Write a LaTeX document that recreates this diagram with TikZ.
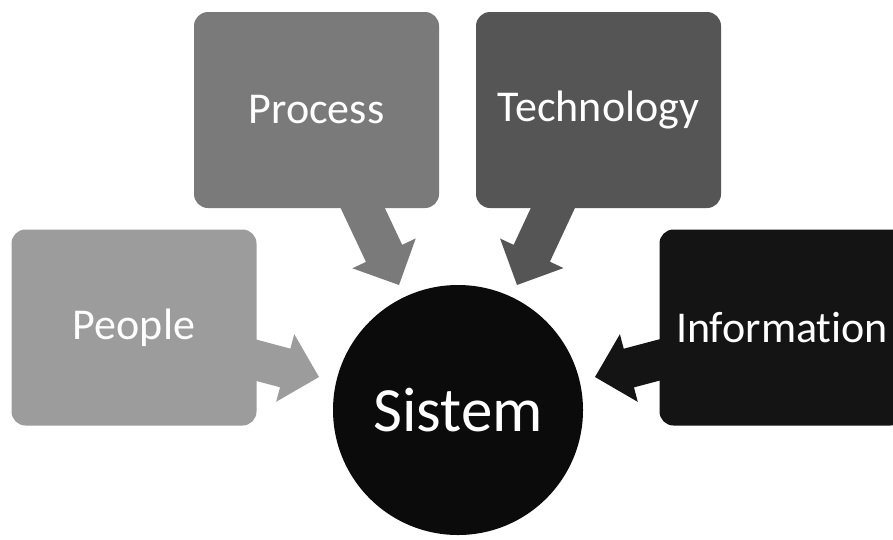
\documentclass[tikz,border=0pt]{standalone}
\usepackage{fontspec}
\setmainfont{Carlito}[Ligatures={NoCommon}]
\usetikzlibrary{calc}
\pgfdeclarelayer{paper}
\pgfdeclarelayer{back}
\pgfsetlayers{paper,back,main}
\definecolor{procgray}{HTML}{7A7A7A}
\definecolor{techgray}{HTML}{555555}
\definecolor{peoplegray}{HTML}{9C9C9C}
\definecolor{infoblack}{HTML}{141414}
\definecolor{sysblack}{HTML}{0B0B0B}
\tikzset{
  box/.style={rounded corners=14pt, minimum width=245pt, minimum height=196pt,
    inner sep=0pt, text=white, font=\fontsize{44}{50}\selectfont},
  sysnode/.style={circle, minimum size=250pt, inner sep=0pt, text=white,
    font=\fontsize{63}{70}\selectfont},
}
\newcommand{\blockarr}[3]{%
  \coordinate (hb) at ($(#2)!35pt!(#1)$);
  \fill[#3] ($(#1)!20pt!90:(#2)$) -- ($(hb)!20pt!90:(#2)$) -- ($(hb)!35pt!90:(#2)$)
    -- (#2) -- ($(hb)!35pt!-90:(#2)$) -- ($(hb)!20pt!-90:(#2)$)
    -- ($(#1)!20pt!-90:(#2)$) -- cycle;}
\begin{document}
\begin{tikzpicture}[x=1pt,y=-1pt]
  \useasboundingbox (0,0) rectangle (893,539);
  \begin{pgfonlayer}{paper}
    \fill[white] (0,0) rectangle (893,539);
  \end{pgfonlayer}
  \clip (0,0) rectangle (893,539);
  \node[box, fill=procgray] (process) at (316.5,110) {Process};
  \node[box, fill=techgray] (tech) at (598.5,110) {Technology};
  \node[box, fill=peoplegray] (people) at (134,327.5) {People};
  \node[box, fill=infoblack] (info) at (782,327.5) {Information};
  \node[sysnode, fill=sysblack] (sys) at (458,410) {Sistem};
  \coordinate (tp) at (399,285);
  \coordinate (tt) at (517,285);
  \coordinate (tpe) at (319,377);
  \coordinate (ti) at (595,377);
  \begin{pgfonlayer}{back}
    \blockarr{process.center}{tp}{procgray}
    \blockarr{tech.center}{tt}{techgray}
    \blockarr{people.center}{tpe}{peoplegray}
    \blockarr{info.center}{ti}{infoblack}
  \end{pgfonlayer}
\end{tikzpicture}
\end{document}
